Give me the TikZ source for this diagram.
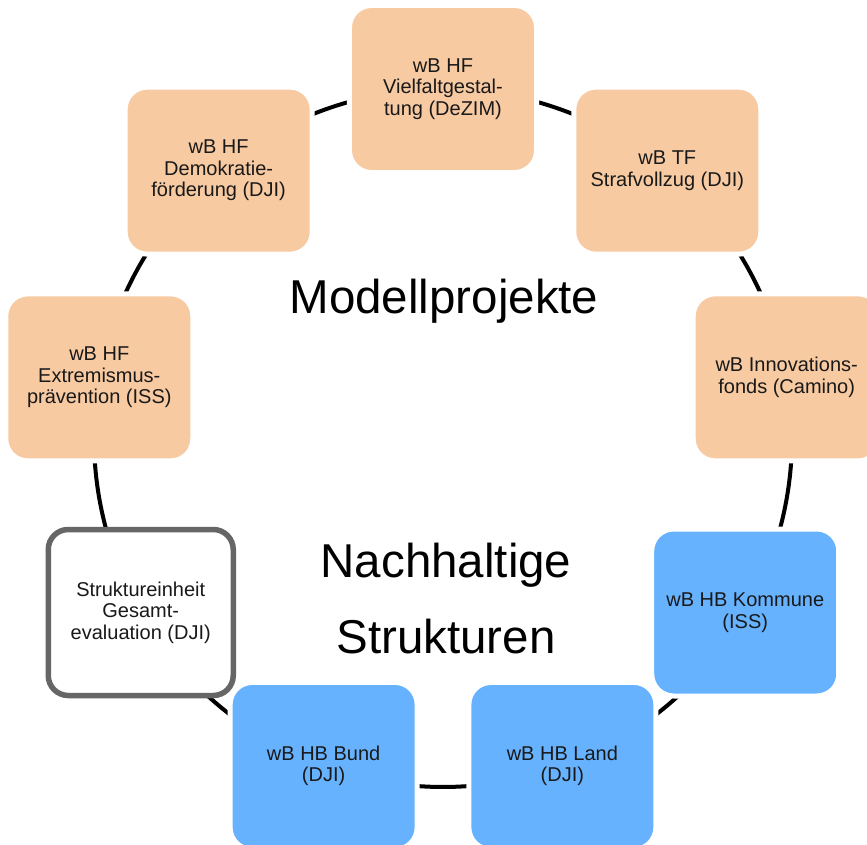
\documentclass[tikz,border=0pt]{standalone}
\usepackage{fontspec}
\setmainfont{Liberation Sans}
\pgfdeclarelayer{background}
\pgfsetlayers{background,main}
\definecolor{peach}{HTML}{F7CAA2}
\definecolor{skyb}{HTML}{66B2FF}
\definecolor{framegray}{HTML}{666666}
\tikzset{
  box/.style={rectangle, rounded corners=22pt, minimum width=187pt, minimum height=167pt,
    align=center, inner sep=0pt, text=black!90, draw=white, line width=5pt,
    font=\fontsize{20}{21.5}\selectfont},
  mp/.style={box, fill=peach},
  hb/.style={box, fill=skyb},
  se/.style={box, fill=white, draw=framegray, line width=5.5pt, rounded corners=20pt,
    minimum width=185pt, minimum height=166pt},
  ring/.style={line width=4pt, black, bend right=20, looseness=0.88},
  bigtext/.style={anchor=base, inner sep=0pt, font=\fontsize{47.5}{56}\selectfont, text=black}
}
\begin{document}
\begin{tikzpicture}
\useasboundingbox (-443pt,-406pt) rectangle (424pt,438pt);
\node[mp] (n1) at (90:349pt) {wB HF\\Vielfaltgestal-\\tung (DeZIM)};
\node[mp] (n2) at (130:349pt) {wB HF\\Demokratie-\\förderung (DJI)};
\node[mp] (n3) at (50:349pt) {wB TF\\Strafvollzug (DJI)};
\node[mp] (n4) at (10:349pt) {wB Innovations-\\fonds (Camino)};
\node[mp] (n5) at (170:349pt) {wB HF\\Extremismus-\\prävention (ISS)};
\node[hb] (n7) at (-30:349pt) {wB HB Kommune\\(ISS)};
\node[hb] (n8) at (250:349pt) {wB HB Bund\\(DJI)};
\node[hb] (n9) at (290:349pt) {wB HB Land\\(DJI)};
\node[se] (n6) at (210:349pt) {Struktureinheit\\Gesamt-\\evaluation (DJI)};
\node[bigtext] (t1) at (1pt,125pt) {Modellprojekte};
\node[bigtext] (t2) at (3pt,-139pt) {Nachhaltige};
\node[bigtext] (t3) at (3pt,-215pt) {Strukturen};
\begin{pgfonlayer}{background}
\fill[white] (-443pt,-406pt) rectangle (424pt,438pt);
\draw[ring] (n1.center) to (n2.center);
\draw[ring] (n2.center) to (n5.center);
\draw[ring] (n5.center) to (n6.center);
\draw[ring] (n6.center) to (n8.center);
\draw[ring] (n8.center) to (n9.center);
\draw[ring] (n9.center) to (n7.center);
\draw[ring] (n7.center) to (n4.center);
\draw[ring] (n4.center) to (n3.center);
\draw[ring] (n3.center) to (n1.center);
\end{pgfonlayer}
\end{tikzpicture}
\end{document}
